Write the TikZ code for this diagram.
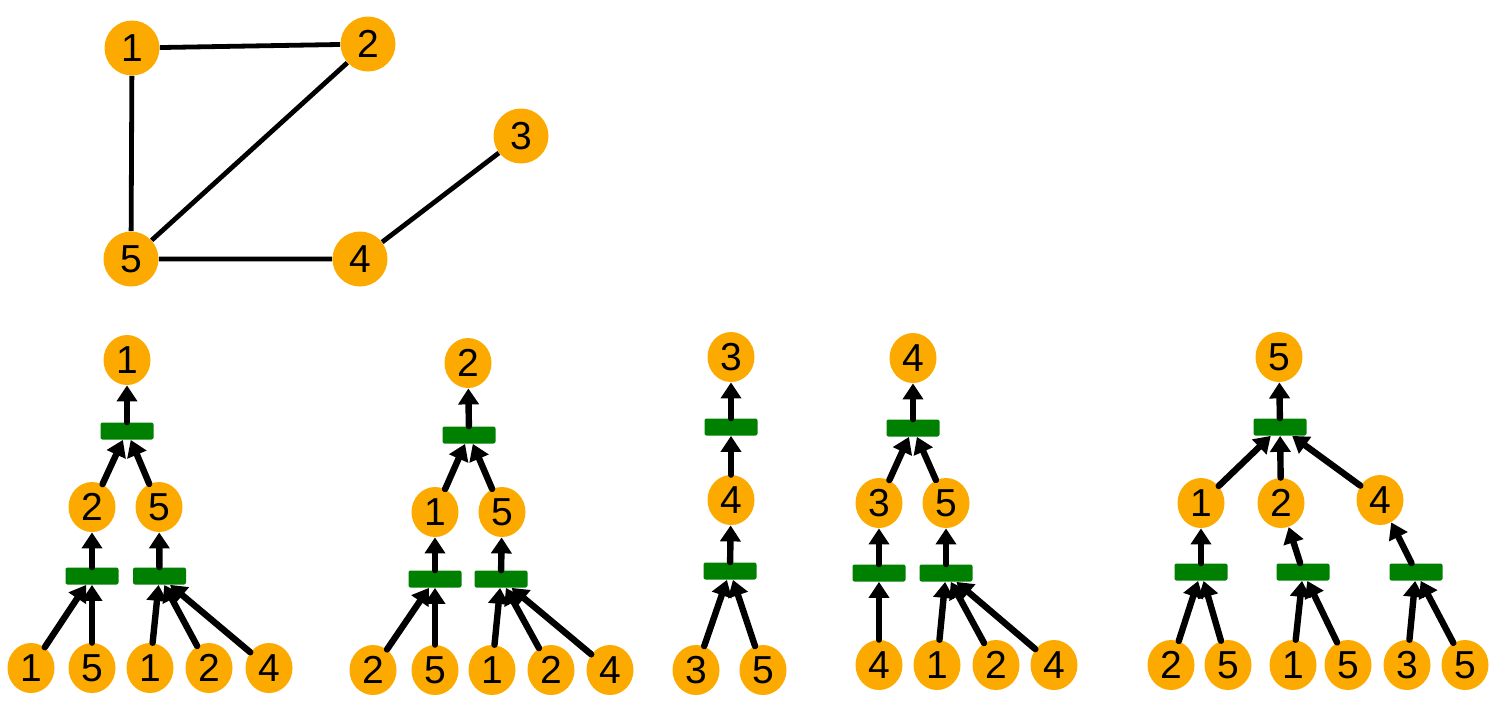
\documentclass[tikz,border=0pt]{standalone}
\usepackage{fontspec}
\setmainfont{Liberation Sans}
\usetikzlibrary{shapes.geometric,arrows.meta}
\definecolor{varorange}{RGB}{252,170,0}
\definecolor{facgreen}{RGB}{0,128,0}
\begin{document}
\begin{tikzpicture}[x=0.5pt,y=-0.5pt,
  gvar/.style={circle,fill=varorange,inner sep=0pt,minimum size=27.5pt,font=\fontsize{19.5}{22}\selectfont},
  var/.style={ellipse,fill=varorange,inner sep=0pt,minimum width=23.5pt,minimum height=25pt,font=\fontsize{19.5}{22}\selectfont},
  fac/.style={rectangle,fill=facgreen,rounded corners=1pt,inner sep=0pt,minimum width=26.5pt,minimum height=8.5pt},
  msg/.style={-{Triangle[width=10pt,length=8pt]},line width=3.2pt,line cap=round},
  link/.style={line width=2.4pt}]
\useasboundingbox (0,0) rectangle (1496,720);
% the graph
\node[gvar] (g1) at (132,48) {1};
\node[gvar] (g2) at (368,44) {2};
\node[gvar] (g3) at (521,136) {3};
\node[gvar] (g4) at (360,259) {4};
\node[gvar] (g5) at (131,259) {5};
\draw[link] (g1) -- (g2) (g1) -- (g5) (g2) -- (g5) (g5) -- (g4) (g4) -- (g3);
% tree for 1
\node[var] (a1) at (127,360) {1};
\node[fac] (af) at (127,431) {};
\node[var] (a2) at (92,507) {2};
\node[var] (a5) at (159,507) {5};
\node[fac] (af2) at (92,576) {};
\node[fac] (af5) at (159.5,576) {};
\node[var] (al1) at (31,668) {1};
\node[var] (al2) at (92,668) {5};
\node[var] (al3) at (150,668) {1};
\node[var] (al4) at (209,668) {2};
\node[var] (al5) at (269,668) {4};
\draw[msg] (af) -- (a1);
\draw[msg] (a2) -- (af);
\draw[msg] (a5) -- (af);
\draw[msg] (af2) -- (a2);
\draw[msg] (af5) -- (a5);
\draw[msg] (al1) -- (af2);
\draw[msg] (al2) -- (af2);
\draw[msg] (al3) -- (af5);
\draw[msg] (al4) -- (af5);
\draw[msg] (al5) -- (af5);
% tree for 2
\node[var] (b2) at (468,363) {2};
\node[fac] (bf) at (469,435) {};
\node[var] (b1) at (435,512) {1};
\node[var] (b5) at (502,512) {5};
\node[fac] (bf1) at (435,579) {};
\node[fac] (bf5) at (501,579) {};
\node[var] (bl1) at (373,670) {2};
\node[var] (bl2) at (435,670) {5};
\node[var] (bl3) at (492,670) {1};
\node[var] (bl4) at (551,670) {2};
\node[var] (bl5) at (610,670) {4};
\draw[msg] (bf) -- (b2);
\draw[msg] (b1) -- (bf);
\draw[msg] (b5) -- (bf);
\draw[msg] (bf1) -- (b1);
\draw[msg] (bf5) -- (b5);
\draw[msg] (bl1) -- (bf1);
\draw[msg] (bl2) -- (bf1);
\draw[msg] (bl3) -- (bf5);
\draw[msg] (bl4) -- (bf5);
\draw[msg] (bl5) -- (bf5);
% tree for 3
\node[var] (c3) at (731,357) {3};
\node[fac] (cf) at (731,427) {};
\node[var] (c4) at (731,500) {4};
\node[fac] (cf4) at (730,571) {};
\node[var] (cl1) at (696,670) {3};
\node[var] (cl2) at (763,670) {5};
\draw[msg] (cf) -- (c3);
\draw[msg] (c4) -- (cf);
\draw[msg] (cf4) -- (c4);
\draw[msg] (cl1) -- (cf4);
\draw[msg] (cl2) -- (cf4);
% tree for 4
\node[var] (d4) at (913,358) {4};
\node[fac] (df) at (913,428) {};
\node[var] (d3) at (879,503) {3};
\node[var] (d5) at (946,503) {5};
\node[fac] (df3) at (879,573) {};
\node[fac] (df5) at (946,573) {};
\node[var] (dl1) at (879,665) {4};
\node[var] (dl2) at (937,665) {1};
\node[var] (dl3) at (996,665) {2};
\node[var] (dl4) at (1054,665) {4};
\draw[msg] (df) -- (d4);
\draw[msg] (d3) -- (df);
\draw[msg] (d5) -- (df);
\draw[msg] (df3) -- (d3);
\draw[msg] (df5) -- (d5);
\draw[msg] (dl1) -- (df3);
\draw[msg] (dl2) -- (df5);
\draw[msg] (dl3) -- (df5);
\draw[msg] (dl4) -- (df5);
% tree for 5
\node[var] (e5) at (1279,357) {5};
\node[fac] (ef) at (1280,427) {};
\node[var] (e1) at (1201,503) {1};
\node[var] (e2) at (1281,503) {2};
\node[var] (e4) at (1380,500) {4};
\node[fac] (ef1) at (1201,572) {};
\node[fac] (ef2) at (1303,572) {};
\node[fac] (ef4) at (1416,572) {};
\node[var] (el1) at (1171,665) {2};
\node[var] (el2) at (1228,665) {5};
\node[var] (el3) at (1293,665) {1};
\node[var] (el4) at (1348,665) {5};
\node[var] (el5) at (1407,665) {3};
\node[var] (el6) at (1465,665) {5};
\draw[msg] (ef) -- (e5);
\draw[msg] (e1) -- (ef);
\draw[msg] (e2) -- (ef);
\draw[msg] (e4) -- (ef);
\draw[msg] (ef1) -- (e1);
\draw[msg] (ef2) -- (e2);
\draw[msg] (ef4) -- (e4);
\draw[msg] (el1) -- (ef1);
\draw[msg] (el2) -- (ef1);
\draw[msg] (el3) -- (ef2);
\draw[msg] (el4) -- (ef2);
\draw[msg] (el5) -- (ef4);
\draw[msg] (el6) -- (ef4);
\end{tikzpicture}
\end{document}
